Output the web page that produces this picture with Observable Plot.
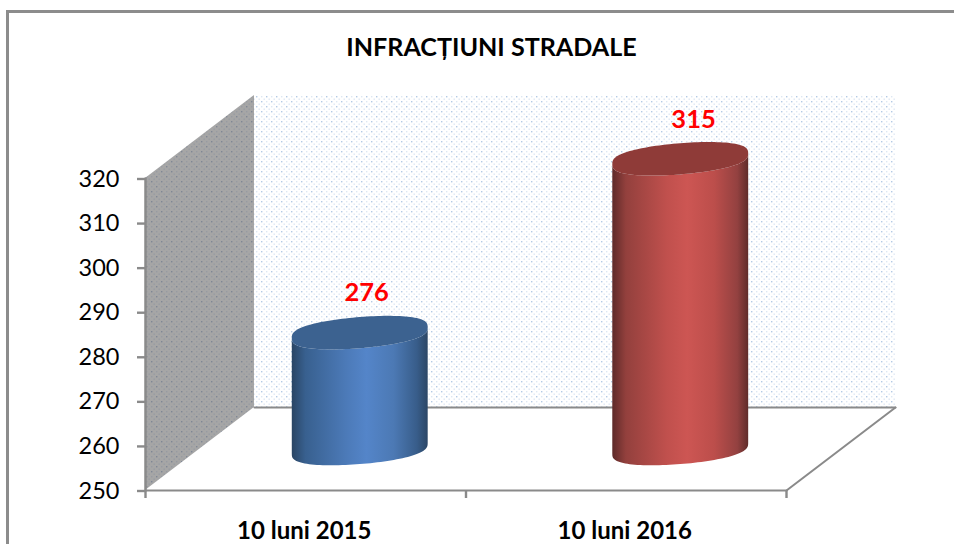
<!DOCTYPE html>
<html lang="ro">
<head>
<meta charset="utf-8">
<script src="https://cdn.jsdelivr.net/npm/d3@7"></script>
<script src="https://cdn.jsdelivr.net/npm/@observablehq/plot@0.6"></script>
<style>
  html,body{margin:0;padding:0;background:#fff;overflow:hidden}
  #wrap{position:relative;width:954px;height:544px;overflow:hidden}
  #border{position:absolute;left:6px;top:10px;width:960px;height:600px;border-left:3px solid #8c8c8c;border-top:3px solid #8c8c8c;box-sizing:border-box}
  #title{position:absolute;left:0;top:30px;width:983px;text-align:center;font:bold 25.1px Lato,sans-serif;color:#000;line-height:32px}
  svg{position:absolute;left:0;top:0}
</style>
</head>
<body>
<div id="wrap">
  <div id="border"></div>
  <div id="title">INFRACȚIUNI STRADALE</div>
</div>
<script>
// Chart data
const titleText = "INFRACȚIUNI STRADALE";
const categories = ["10 luni 2015", "10 luni 2016"];
const values = [276, 315];
const yTicks = [250, 260, 270, 280, 290, 300, 310, 320];
const labelShift = [0.02, 0.04];

// 3-D projection, in data units of the two axes
const depthX = 0.34, depthY = 18.62;
const yMin = 250, yMax = 320;
const cylRadius = 0.212, capTilt = 1.2, capHalf = 3.5, capRound = 0.72;
const project = (x, y, d) => ({x: x + d * depthX, y: y + d * depthY});

const wall = [{x1: project(0, 0, 1).x, x2: project(2, 0, 1).x, y1: yMin + depthY, y2: yMax + depthY}];
const side = [0, 1].map(d => ({x: project(0, 0, d).x, lo: yMin + d * depthY, hi: yMax + d * depthY}));
const backLine = [project(0, yMin, 1), project(2, yMin, 1)];
const rightLine = [project(2, yMin, 0), project(2, yMin, 1)];
const frontLine = [project(0, yMin, 0), project(2, yMin, 0)];

function cylinderPoints(i, value) {
  const c = project(i + 0.5, 0, 0.5).x;
  const top = value + 0.5 * depthY, bottom = yMin + 0.5 * depthY;
  return d3.range(0, 61).map(k => {
    const t = Math.PI * k / 60, tilt = capTilt * Math.cos(t), h = capHalf * Math.pow(Math.sin(t), capRound);
    return {x: c + cylRadius * Math.cos(t),
            bodyLow: bottom + tilt - h, bodyHigh: top + tilt - h,
            capLow: top + tilt - h, capHigh: top + tilt + h};
  });
}
const bodyFills = ["url(#gBlue)", "url(#gRed)"];
const capFills = ["#3c6290", "#8f3b38"];
const cylinderMarks = values.flatMap((v, i) => {
  const pts = cylinderPoints(i, v);
  return [
    Plot.area(pts, {x1: "x", y1: "bodyLow", y2: "bodyHigh", fill: bodyFills[i]}),
    Plot.area(pts, {x1: "x", y1: "capLow", y2: "capHigh", fill: capFills[i]})
  ];
});
const labelRows = values.map((v, i) => ({
  x: project(i + 0.5, 0, 0.5).x + labelShift[i], y: v + 0.5 * depthY + 4.81, text: String(v)
}));
const catRows = categories.map((c, i) => ({x: i + 0.5, y: yMin, text: c}));

const line = (pts, w) => Plot.line(pts, {x: "x", y: "y", stroke: "#8a8a8a", strokeWidth: w});

const chart = Plot.plot({
  width: 954, height: 544,
  marginLeft: 145, marginRight: 168, marginTop: 178, marginBottom: 54,
  style: {fontFamily: "Lato, sans-serif", background: "transparent", overflow: "visible"},
  x: {type: "linear", domain: [0, 2], axis: null},
  y: {type: "linear", domain: [yMin, yMax]},
  marks: [
    Plot.rect(wall, {x1: "x1", x2: "x2", y1: "y1", y2: "y2", fill: "url(#dotsLight)"}),
    Plot.area(side, {x1: "x", y1: "lo", y2: "hi", fill: "url(#dotsGrey)"}),
    line(backLine, 2),
    line(rightLine, 2),
    line(frontLine, 2),
    line([project(0, yMin, 0), project(0, yMax, 0)], 2.5),
    Plot.axisY({ticks: yTicks, tickSize: 8, tickPadding: 18, fontSize: 23.5, dy: 0.5, stroke: "#8a8a8a", strokeWidth: 2.4, fill: "#000", label: null}),
    Plot.axisX({ticks: [0, 1, 2], tickSize: 8, tickFormat: () => "", stroke: "#8a8a8a", strokeWidth: 2.4, label: null}),
    ...cylinderMarks,
    Plot.text(labelRows, {x: "x", y: "y", text: "text", dy: -18.5, fontSize: 25.5, fontWeight: "bold", fill: "#ff0000"}),
    Plot.text(catRows, {x: "x", y: "y", text: "text", dx: -1.5, dy: 41, fontSize: 24, fontWeight: "bold", fill: "#000"})
  ]
});

// Fills referenced by the marks
const defs = d3.select(chart).insert("defs", ":first-child");
function grad(id, stops) {
  const g = defs.append("linearGradient").attr("id", id).attr("x1", 0).attr("x2", 1).attr("y1", 0).attr("y2", 0);
  stops.forEach(([o, c]) => g.append("stop").attr("offset", o).attr("stop-color", c));
}
grad("gBlue", [[0, "#2a4564"], [0.1, "#38608f"], [0.4, "#4c7ab8"], [0.55, "#5485c9"], [0.75, "#4c79b4"], [0.92, "#385d8a"], [1, "#2b4666"]]);
grad("gRed", [[0, "#5e2a29"], [0.1, "#93403d"], [0.4, "#c0504d"], [0.55, "#cd5653"], [0.75, "#bc4e4b"], [0.92, "#934140"], [1, "#5f2c2a"]]);
function dots(id, bg, light, dark) {
  const p = defs.append("pattern").attr("id", id).attr("patternUnits", "userSpaceOnUse")
    .attr("width", 10).attr("height", 10).attr("x", 0).attr("y", 0);
  if (bg) p.append("rect").attr("width", 10).attr("height", 10).attr("fill", bg);
  [[1, 1, dark], [6, 1, light], [3.5, 3.5, light], [8.5, 3.5, light], [1, 6, light], [6, 6, dark], [3.5, 8.5, light], [8.5, 8.5, light]]
    .forEach(([x, y, c]) => p.append("rect").attr("x", x).attr("y", y).attr("width", 1.4).attr("height", 1.4).attr("fill", c));
}
dots("dotsLight", null, "#dde7f3", "#b3c9e4");
dots("dotsGrey", "#a6a6a6", "#979ba2", "#7f8794");

document.getElementById("wrap").appendChild(chart);
document.getElementById("title").textContent = titleText;
</script>
</body>
</html>
